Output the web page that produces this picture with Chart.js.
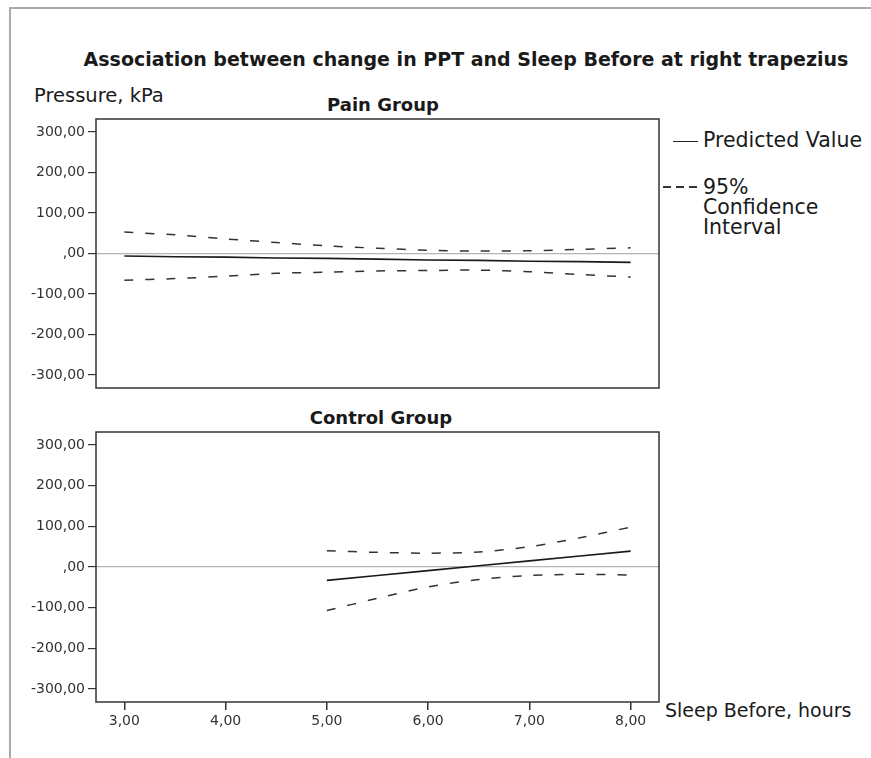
<!DOCTYPE html>
<html>
<head>
<meta charset="utf-8">
<script src="https://cdn.jsdelivr.net/npm/chart.js@4.4.1/dist/chart.umd.min.js"></script>
<style>
  body { margin: 0; background: #fff; font-family: "DejaVu Sans", sans-serif; color: #1a1a1a; }
  #page { position: relative; width: 871px; height: 758px; overflow: hidden; }
  .frame { position: absolute; left: 9px; top: 7px; width: 900px; height: 800px;
           border-left: 2px solid #aaa; border-top: 2px solid #aaa; }
  .txt { position: absolute; white-space: nowrap; line-height: 1; }
  canvas { position: absolute; left: 0; }
  .sym { position: absolute; height: 0; }
</style>
</head>
<body>
<div id="page">
  <div class="frame"></div>
  <div class="txt" style="left:466px; top:50px; transform:translateX(-50%); font-size:19px; font-weight:bold;">Association between change in PPT and Sleep Before at right trapezius</div>
  <div class="txt" style="left:34px; top:86px; font-size:19.5px;">Pressure, kPa</div>
  <div class="txt" style="left:383px; top:96px; transform:translateX(-50%); font-size:18px; font-weight:bold;">Pain Group</div>
  <div class="txt" style="left:381px; top:409px; transform:translateX(-50%); font-size:18px; font-weight:bold;">Control Group</div>

  <div class="sym" style="left:673px; top:141px; width:25px; border-top:1.5px solid #222;"></div>
  <div class="txt" style="left:703px; top:130px; font-size:20.5px;">Predicted Value</div>
  <div class="sym" style="left:663px; top:186px; width:34px; height:1.5px;
       background: repeating-linear-gradient(90deg, #333 0 8px, transparent 8px 13px);"></div>
  <div class="txt" style="left:703px; top:177px; font-size:20.5px; line-height:20px;">95%<br>Confidence<br>Interval</div>

  <div class="txt" style="left:665px; top:701px; font-size:19px;">Sleep Before, hours</div>

  <canvas id="pain" width="662" height="278" style="top:115px;"></canvas>
  <canvas id="control" width="662" height="310" style="top:428px;"></canvas>
</div>
<script>
// values
const painHours = [3, 3.5, 4, 4.5, 5, 5.5, 6, 6.5, 7, 7.5, 8];
const painPredicted = [-6, -8, -9, -11, -12, -14, -16, -17, -19, -20, -22];
const painUpper = [53, 46, 36, 27, 19, 13, 8, 6, 7, 10, 14];
const painLower = [-66, -62, -56, -49, -46, -43, -42, -41, -45, -52, -58];

const controlHours = [5, 5.5, 6, 6.5, 7, 7.5, 8];
const controlPredicted = [-33, -21, -9, 3, 15, 27, 39];
const controlUpper = [40, 36, 34, 37, 50, 72, 98];
const controlLower = [-107, -77, -49, -31, -21, -18, -20];

const yTickValues = [-300, -200, -100, 0, 100, 200, 300];
const xTickValues = [3, 4, 5, 6, 7, 8];

Chart.defaults.font.family = '"DejaVu Sans", sans-serif';
Chart.defaults.font.size = 14;
Chart.defaults.color = '#333';

function fmt(v) {
    return v === 0 ? ',00' : v.toFixed(2).replace('.', ',');
}

function points(xs, ys) {
    return xs.map(function (x, i) { return { x: x, y: ys[i] }; });
}

const boxBorder = {
    id: 'boxBorder',
    afterDraw: function (chart) {
        const a = chart.chartArea, c = chart.ctx;
        c.save();
        c.strokeStyle = '#333';
        c.lineWidth = 1.5;
        c.strokeRect(a.left, a.top, a.right - a.left, a.bottom - a.top);
        c.restore();
    }
};

function makeChart(id, xs, pred, up, low, showX, pad) {
    const dashed = {
        borderColor: '#333', borderWidth: 1.5, borderDash: [9, 12],
        pointRadius: 0, showLine: true, tension: 0.3, fill: false
    };
    return new Chart(document.getElementById(id), {
        type: 'scatter',
        data: {
            datasets: [
                Object.assign({ label: 'upper', data: points(xs, up) }, dashed),
                Object.assign({ label: 'lower', data: points(xs, low) }, dashed),
                {
                    label: 'Predicted Value', data: points(xs, pred),
                    borderColor: '#1a1a1a', borderWidth: 1.6,
                    pointRadius: 0, showLine: true, fill: false
                }
            ]
        },
        options: {
            responsive: false,
            animation: false,
            layout: { padding: pad },
            plugins: { legend: { display: false }, tooltip: { enabled: false } },
            scales: {
                x: {
                    type: 'linear', min: 2.72, max: 8.28,
                    display: showX,
                    afterBuildTicks: function (s) { s.ticks = xTickValues.map(function (v) { return { value: v }; }); },
                    afterFit: function (s) {
                        if (showX) s.height = 36;
                        s.paddingLeft = 0; s.paddingRight = 0;
                    },
                    border: { display: false },
                    grid: { drawOnChartArea: false, tickColor: '#333', tickLength: 8, lineWidth: 1.5 },
                    ticks: { callback: fmt, padding: 3, maxRotation: 0, autoSkip: false }
                },
                y: {
                    type: 'linear', min: -332, max: 332,
                    afterBuildTicks: function (s) { s.ticks = yTickValues.map(function (v) { return { value: v }; }); },
                    afterFit: function (s) {
                        s.width = 96;
                        s.paddingTop = 0; s.paddingBottom = 0;
                    },
                    border: { display: false },
                    grid: {
                        color: function (ctx) { return ctx.tick && ctx.tick.value === 0 ? '#b4b4b4' : 'rgba(0,0,0,0)'; },
                        tickColor: '#333', tickLength: 8, lineWidth: 1.2
                    },
                    ticks: { callback: fmt, padding: 3 }
                }
            }
        },
        plugins: [boxBorder]
    });
}

makeChart('pain', painHours, painPredicted, painUpper, painLower, false,
    { top: 4, bottom: 5, left: 0, right: 3 });
makeChart('control', controlHours, controlPredicted, controlUpper, controlLower, true,
    { top: 4, bottom: 0, left: 0, right: 3 });
</script>
</body>
</html>
